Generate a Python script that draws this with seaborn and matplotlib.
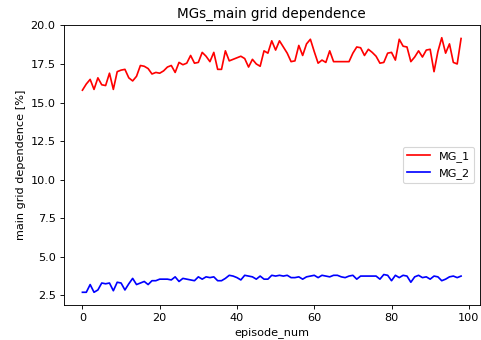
import numpy as np
import pandas as pd
import matplotlib
matplotlib.use("Agg")
import matplotlib.pyplot as plt
import seaborn as sns

episodes = list(range(99))

mg_1 = [
    15.8, 16.2, 16.5, 15.85, 16.6, 16.15, 16.1, 16.9, 15.85, 17.0,
    17.1, 17.15, 16.6, 16.4, 16.7, 17.4, 17.35, 17.2, 16.85, 16.95,
    16.9, 17.05, 17.3, 17.4, 16.95, 17.6, 17.45, 17.55, 18.05, 17.55,
    17.6, 18.25, 18.0, 17.65, 18.25, 17.15, 17.15, 18.35, 17.7, 17.8,
    17.9, 18.0, 17.85, 17.3, 17.8, 17.5, 17.35, 18.35, 18.2, 19.0,
    18.4, 19.0, 18.6, 18.2, 17.65, 17.7, 18.7, 18.05, 18.8, 19.1,
    18.3, 17.55, 17.75, 17.6, 18.35, 17.65, 17.65, 17.65, 17.65, 17.65,
    18.2, 18.6, 18.55, 18.05, 18.45, 18.25, 18.0, 17.55, 17.6, 18.2,
    18.25, 17.75, 19.1, 18.65, 18.6, 17.65, 17.95, 18.35, 17.95, 18.4,
    18.45, 17.0, 18.3, 19.2, 18.2, 18.8, 17.6, 17.5, 19.15,
]

mg_2 = [
    2.7, 2.7, 3.2, 2.7, 2.85, 3.3, 3.25, 3.3, 2.8, 3.35,
    3.3, 2.85, 3.25, 3.6, 3.2, 3.3, 3.4, 3.2, 3.45, 3.45,
    3.55, 3.55, 3.55, 3.5, 3.7, 3.4, 3.6, 3.55, 3.5, 3.45,
    3.7, 3.55, 3.7, 3.65, 3.7, 3.45, 3.45, 3.6, 3.8, 3.75,
    3.65, 3.5, 3.8, 3.75, 3.7, 3.55, 3.75, 3.55, 3.55, 3.8,
    3.75, 3.8, 3.75, 3.8, 3.65, 3.65, 3.7, 3.55, 3.7, 3.75,
    3.8, 3.65, 3.8, 3.75, 3.7, 3.8, 3.8, 3.7, 3.65, 3.75,
    3.8, 3.55, 3.75, 3.75, 3.75, 3.75, 3.75, 3.55, 3.85, 3.8,
    3.45, 3.8, 3.65, 3.8, 3.75, 3.35, 3.7, 3.8, 3.65, 3.7,
    3.55, 3.75, 3.7, 3.45, 3.55, 3.7, 3.75, 3.65, 3.75,
]

series_names = ["MG_1", "MG_2"]
series_colors = ["red", "blue"]

df = pd.DataFrame({
    "episode_num": episodes * 2,
    "value": mg_1 + mg_2,
    "series": [series_names[0]] * len(mg_1) + [series_names[1]] * len(mg_2),
})

dpi = 81
fig = plt.figure(figsize=(481 / dpi, 340 / dpi), dpi=dpi)
ax = fig.add_axes([63.5 / 481, 35 / 340, (480 - 63.5) / 481, (305 - 25) / 340])

sns.lineplot(data=df, x="episode_num", y="value", hue="series",
             palette=dict(zip(series_names, series_colors)),
             linewidth=1.5, ax=ax)

handles, labels = ax.get_legend_handles_labels()
ax.legend(handles, labels, loc="center right")

ax.set_title("MGs_main grid dependence")
ax.set_xlabel("episode_num")
ax.set_ylabel("main grid dependence [%]")
ax.set_xticks([0, 20, 40, 60, 80, 100])
ax.set_yticks([2.5, 5.0, 7.5, 10.0, 12.5, 15.0, 17.5, 20.0])

fig.savefig("out.png", dpi=dpi)
